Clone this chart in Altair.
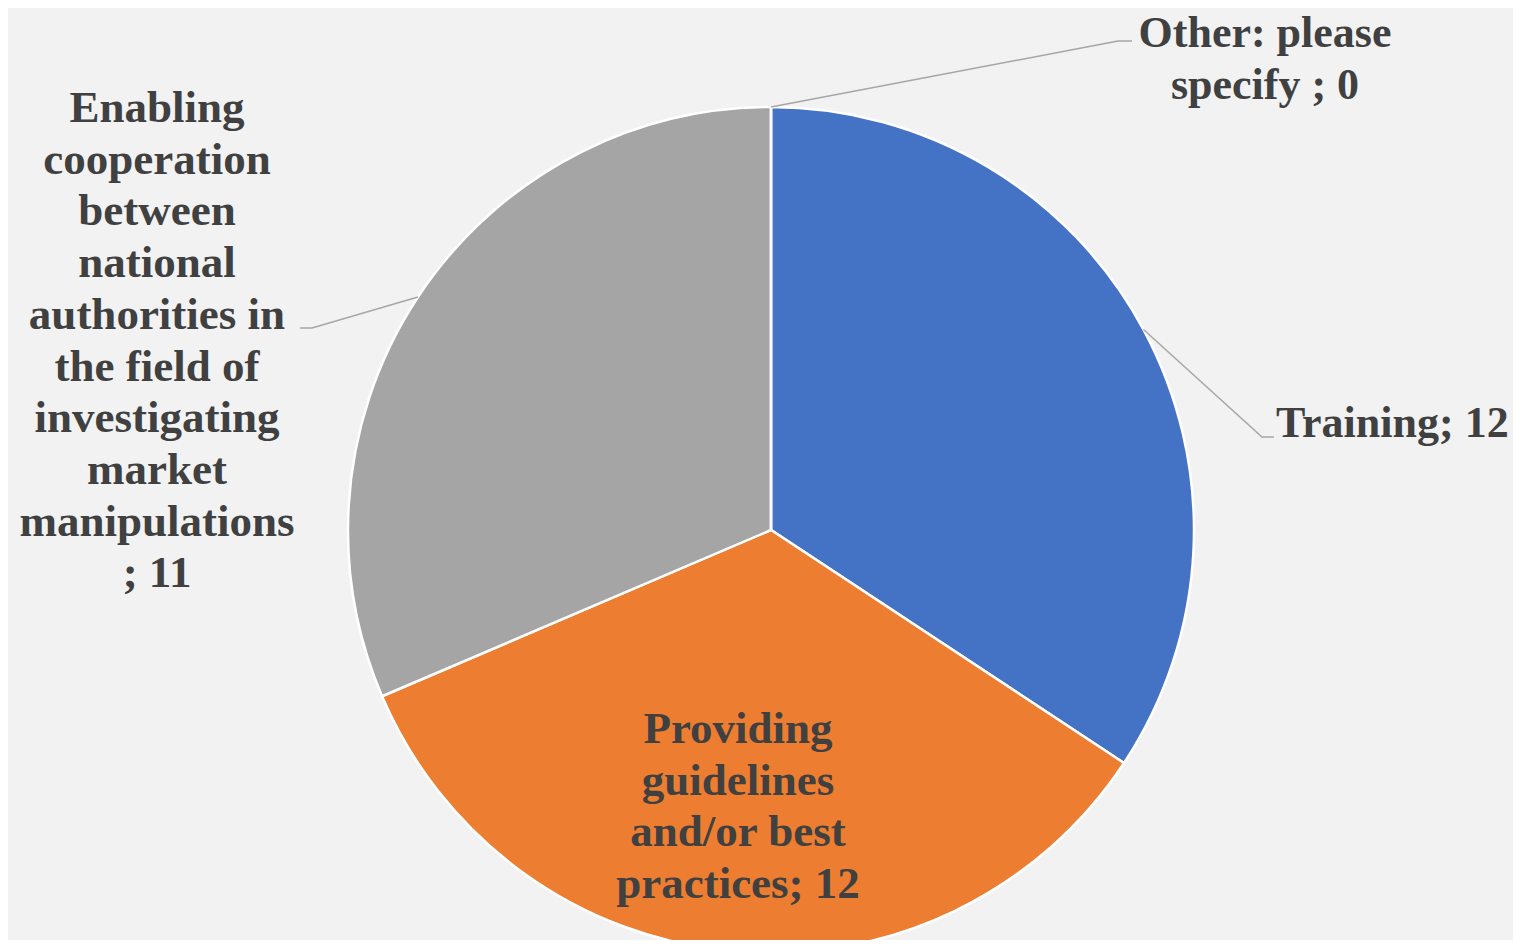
import math
import altair as alt
import pandas as pd

# ---------------- data ----------------
categories = [
    "Training",
    "Providing guidelines and/or best practices",
    "Enabling cooperation between national authorities in the field of investigating market manipulations ",
    "Other: please specify ",
]
values = [12, 12, 11, 0]
colors = ["#4472C4", "#ED7D31", "#A5A5A5", "#FFC000"]

# label text as wrapped in the reference (value appended from `values`)
label_lines = [
    [f"Training; {values[0]}"],
    ["Providing", "guidelines", "and/or best", f"practices; {values[1]}"],
    ["Enabling", "cooperation", "between", "national", "authorities in",
     "the field of", "investigating", "market", "manipulations", f"; {values[2]}"],
    ["Other: please", f"specify ; {values[3]}"],
]

# ---------------- layout ----------------
W, H = 1505, 932
CX, CY, R = 763, 522, 423
# label anchor (x, y of first line centre), alignment
label_pos = [(1268, 416), (730, 721), (149, 100), (1257, 26)]
label_align = ["left", "center", "center", "center"]
label_size = [44, 45, 45, 44]
# leader elbow/end points (None = no leader)
leader_pts = [
    [(1254, 429), (1266, 429)],
    None,
    [(304, 320), (292, 320)],
    [(1110, 33), (1124, 33)],
]

total = sum(values)
pie_df = pd.DataFrame({"category": categories, "value": values, "order": list(range(len(values)))})

# leader lines start at slice mid-angle on the rim (derived from values)
line_rows = []
cum = 0
for i, v in enumerate(values):
    start, end = cum, cum + v
    cum = end
    if leader_pts[i] is None:
        continue
    a = (start + end) / 2 / total * 2 * math.pi
    sx, sy = CX + R * math.sin(a), CY - R * math.cos(a)
    pts = [(sx, sy)] + leader_pts[i]
    for k, (px, py) in enumerate(pts):
        line_rows.append({"label": categories[i], "px": px, "py": py, "k": k})
lines_df = pd.DataFrame(line_rows)

text_df = pd.DataFrame({
    "label": ["\n".join(l) for l in label_lines],
    "px": [p[0] for p in label_pos],
    "py": [p[1] for p in label_pos],
    "align": label_align,
    "size": label_size,
})

pie = alt.Chart(pie_df).mark_arc(radius=R, stroke="white", strokeWidth=2.5).encode(
    theta=alt.Theta("value:Q", stack=True),
    color=alt.Color("category:N", scale=alt.Scale(domain=categories, range=colors), legend=None),
    order=alt.Order("order:Q"),
    x=alt.value(CX),
    y=alt.value(CY),
)

leaders = alt.Chart(lines_df).mark_line(color="#A6A6A6", strokeWidth=1.5).encode(
    x=alt.X("px:Q", scale=None, axis=None),
    y=alt.Y("py:Q", scale=None, axis=None),
    detail="label:N",
    order="k:Q",
)

text_style = dict(
    font="Liberation Serif",
    fontWeight="bold",
    color="#404040",
    lineBreak="\n",
    lineHeight=51.7,
    baseline="middle",
)
text_enc = dict(
    x=alt.X("px:Q", scale=None, axis=None),
    y=alt.Y("py:Q", scale=None, axis=None),
    text="label:N",
    size=alt.Size("size:Q", scale=None, legend=None),
)

labels_center = alt.Chart(text_df).transform_filter(
    alt.datum.align == "center"
).mark_text(align="center", **text_style).encode(**text_enc)

labels_left = alt.Chart(text_df).transform_filter(
    alt.datum.align == "left"
).mark_text(align="left", **text_style).encode(**text_enc)

chart = alt.layer(pie, leaders, labels_center, labels_left).properties(
    width=W,
    height=H,
    background="#F2F2F2",
    padding=0,
    autosize=alt.AutoSizeParams(type="none"),
).configure_view(strokeOpacity=0)

chart.save("out.html", embed_options={"renderer": "svg", "actions": False})
